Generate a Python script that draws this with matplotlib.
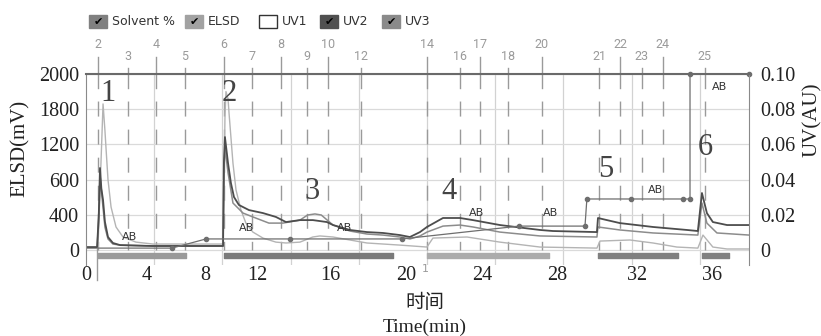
import numpy as np
import matplotlib.pyplot as plt
from matplotlib.patches import Rectangle

W, H = 821, 336

# traces: time (min) vs signal (AU); the left axis just relabels the same grid as ELSD mV
elsd_t = [0, 0.70, 0.88, 1.00, 1.11, 1.17, 1.29, 1.47, 1.76, 2.17, 2.93, 3.93, 6.7, 8.04,
          8.09, 8.15, 8.21, 8.33, 8.39, 8.62, 8.80, 9.09, 9.38, 9.79, 10.38, 11.14, 11.73,
          12.55, 13.3, 13.72, 14.49, 16.48, 18.42, 20.0, 20.35, 22.35, 24.28, 26.63, 29.97,
          30.15, 31.91, 33.26, 34.66, 35.89, 36.19, 36.77, 37.6, 38.9]
elsd_v = [0.0011, 0.0011, 0.050, 0.083, 0.068, 0.0585, 0.040, 0.0244, 0.0131, 0.0074, 0.0045,
          0.0034, 0.0034, 0.0034,
          0.030, 0.075, 0.090, 0.086, 0.0778, 0.0494, 0.0341, 0.0227, 0.0153, 0.0102, 0.0068,
          0.0045, 0.0040, 0.0045, 0.0074, 0.0080, 0.0074, 0.0040, 0.0028, 0.0017, 0.0068,
          0.0074, 0.0045, 0.0017, 0.0011, 0.0051, 0.0057, 0.0040, 0.0017, 0.0011, 0.0085,
          0.0017, 0.0006, 0.0006]

uv2_t = [0, 0.65, 0.75, 0.82, 0.90, 1.00, 1.11, 1.29, 1.58, 2.0, 3.9, 6.7, 8.04,
         8.09, 8.15, 8.33, 8.50, 8.68, 8.97, 9.56, 10.38, 11.14, 11.73, 12.55, 13.31, 14.13,
         14.49, 15.48, 16.48, 17.42, 18.42, 19.0, 19.59, 20.0, 20.94, 21.94, 22.70, 24.28,
         26.63, 27.39, 29.97, 30.03, 30.56, 31.32, 33.26, 35.25, 35.89, 36.13, 36.42, 36.77,
         37.6, 38.9]
uv2_v = [0.0017, 0.0017, 0.020, 0.0466, 0.035, 0.0284, 0.016, 0.0074, 0.0040, 0.0028, 0.0023,
         0.0023, 0.0023,
         0.050, 0.0642, 0.0494, 0.0381, 0.0301, 0.0256, 0.0227, 0.0210, 0.0188, 0.0159, 0.0170,
         0.0170, 0.0159, 0.0142, 0.0114, 0.0102, 0.0097, 0.0085, 0.0074, 0.0102, 0.0131,
         0.0182, 0.0182, 0.0170, 0.0142, 0.0114, 0.0108, 0.0102, 0.0182, 0.0170, 0.0153,
         0.0131, 0.0114, 0.0108, 0.0324, 0.0210, 0.0159, 0.0142, 0.0142]

uv3_t = [0, 0.65, 0.75, 0.84, 0.92, 1.00, 1.11, 1.29, 1.58, 2.0, 3.9, 6.7, 8.04,
         8.09, 8.15, 8.33, 8.62, 9.21, 9.79, 10.73, 11.55, 12.55, 13.0, 13.43, 13.8, 14.49,
         15.48, 16.48, 17.42, 18.42, 19.0, 19.59, 20.0, 20.94, 21.94, 22.70, 24.28, 26.63,
         29.97, 30.03, 31.32, 33.26, 35.89, 36.13, 36.42, 37.01, 38.9]
uv3_v = [0.0011, 0.0011, 0.018, 0.0409, 0.032, 0.024, 0.013, 0.0063, 0.0034, 0.0028, 0.0023,
         0.0023, 0.0023,
         0.045, 0.058, 0.044, 0.0267, 0.0210, 0.0188, 0.0153, 0.0153, 0.0170, 0.0199, 0.0205,
         0.0199, 0.0142, 0.0108, 0.0091, 0.0085, 0.0074, 0.0063, 0.0080, 0.0102, 0.0136,
         0.0142, 0.0131, 0.0102, 0.0080, 0.0074, 0.0131, 0.0114, 0.0097, 0.0085, 0.0267,
         0.0153, 0.0097, 0.0085]

solv_t = [0.70, 5.04, 7.04, 8.04, 11.96, 18.53, 25.40, 29.27, 29.38, 31.96, 35.01, 35.43, 35.43, 38.89]
solv_v = [0.0011, 0.0011, 0.0063, 0.0063, 0.0063, 0.0063, 0.0136, 0.0136, 0.0290, 0.0290,
          0.0290, 0.0290, 0.1, 0.1]
solv_dots = [1, 2, 4, 5, 6, 7, 8, 9, 10, 11, 12, 13]

# fraction collection marks
frac_num = ['2', '3', '4', '5', '6', '7', '8', '9', '10', '12', '14', '16', '17', '18',
            '20', '21', '22', '23', '24', '25']
frac_t = [0.70, 2.46, 4.11, 5.81, 8.09, 9.74, 11.44, 12.96, 14.19, 16.13, 20.0, 21.94,
          23.11, 24.75, 26.74, 30.09, 31.32, 32.61, 33.84, 36.30]
frac_row = [0, 1, 0, 1, 0, 1, 0, 1, 0, 1, 0, 1, 0, 1, 0, 1, 0, 1, 0, 1]

# fraction bars (start, length) and shade
bars = [(0.70, 5.17), (8.09, 9.92), (20.0, 7.16), (30.03, 4.69), (36.13, 1.58)]
bar_cols = ['#9a9a9a', '#7a7a7a', '#ababab', '#808080', '#808080']

peak_lab = ['1', '2', '3', '4', '5', '6']
peak_t = [1.29, 8.39, 13.26, 21.29, 30.5, 36.3]
peak_v = [0.0892, 0.0892, 0.033, 0.033, 0.0455, 0.0585]

ab_t = [2.58, 9.44, 15.19, 22.93, 27.27, 33.43, 37.18]
ab_v = [0.0074, 0.0125, 0.0125, 0.021, 0.021, 0.034, 0.0926]

x_tick_pos = [0.02, 3.58, 6.98, 10.03, 14.31, 18.77, 23.23, 27.62, 32.32, 36.72]
x_tick_lab = ['0', '4', '8', '12', '16', '20', '24', '28', '32', '36']
y_ticks = [0, 0.02, 0.04, 0.06, 0.08, 0.10]
elsd_lab = ['0', '400', '600', '1200', '1800', '2000']
uv_lab = ['0', '0.02', '0.04', '0.06', '0.08', '0.10']

serif = 'Liberation Serif'

fig = plt.figure(figsize=(W / 100, H / 100), dpi=100)
ax = fig.add_axes([86 / W, 1 - 265 / H, 663 / W, 191 / H])
ax.set_xlim(0, 38.89)
ax.set_ylim(-0.0085, 0.1)

# grid
ax.set_xticks(np.arange(4, 37, 4), minor=True)
ax.xaxis.grid(True, which='minor', color='#d2d2d2', lw=0.9)
ax.set_yticks(y_ticks, elsd_lab, fontfamily=serif, fontsize=14.5, color='#222')
ax.yaxis.grid(True, color='#dadada', lw=0.9)
ax.set_xticks(x_tick_pos, x_tick_lab, fontfamily=serif, fontsize=14.5, color='#222')
ax.tick_params(which='both', length=0)
ax.tick_params(axis='y', pad=5)
ax.tick_params(axis='x', pad=1)
ax.set_axisbelow(True)

for s in ['left', 'right']:
    ax.spines[s].set_color('#8a8a8a')
ax.spines['top'].set_color('#6a6a6a')
ax.spines['top'].set_linewidth(1.5)
ax.spines['bottom'].set_visible(False)

ax2 = ax.twinx()
ax2.set_ylim(ax.get_ylim())
ax2.set_yticks(y_ticks, uv_lab, fontfamily=serif, fontsize=14.5, color='#222')
ax2.tick_params(length=0, pad=8)
for s in ax2.spines.values():
    s.set_visible(False)

# fraction lines: solid stub above the frame, dashed inside
for t, n, r in zip(frac_t, frac_num, frac_row):
    top = 0.1097 if r == 0 else 0.1034
    ax.plot([t, t], [top, 0.092], color='#9a9a9a', lw=1, clip_on=False)
    ax.plot([t, t], [0.092, 0.0], color='#9a9a9a', lw=1, ls=(10.8, (10.8, 9.4)))
    ax.text(t, 0.1165 if r == 0 else 0.1102, n, ha='center', va='center', fontsize=9,
            fontfamily='Roboto', color='#9a9a9a', clip_on=False)

# injection mark below the frame
ax.plot([0.65, 0.65], [0.0017, -0.017], color='#9a9a9a', lw=1, clip_on=False)
ax.text(19.88, -0.0105, '1', fontsize=8, color='#9a9a9a', ha='center', va='center',
        clip_on=False)

for (s, w), c in zip(bars, bar_cols):
    ax.broken_barh([(s, w)], (-0.0048, 0.0032), color=c)

ax.plot(elsd_t, elsd_v, color='#b4b4b4', lw=1.0)
ax.plot(uv3_t, uv3_v, color='#8c8c8c', lw=1.1)
ax.plot(uv2_t, uv2_v, color='#4d4d4d', lw=1.3)
ax.plot(solv_t, solv_v, color='#6e6e6e', lw=0.9, marker='o', ms=3,
        markevery=solv_dots, clip_on=False)

for t, v, s in zip(peak_t, peak_v, peak_lab):
    ax.text(t, v, s, ha='center', va='center', fontsize=22, fontfamily=serif, color='#444')
for t, v in zip(ab_t, ab_v):
    ax.text(t, v, 'AB', ha='center', va='center', fontsize=8, color='#333')

# axis titles
fig.text(20 / W, 1 - 148 / H, 'ELSD(mV)', rotation=90, ha='center', va='center',
         fontfamily=serif, fontsize=15, color='#222')
fig.text(812 / W, 1 - 120 / H, 'UV(AU)', rotation=90, ha='center', va='center',
         fontfamily=serif, fontsize=15, color='#222')
fig.text(425 / W, 1 - 303 / H, '时间', ha='center', va='center',
         fontfamily='Noto Sans CJK SC', fontsize=14, color='#222')
fig.text(425 / W, 1 - 327 / H, 'Time(min)', ha='center', va='center',
         fontfamily=serif, fontsize=14, color='#222')

# legend row at the top
leg_lab = ['Solvent %', 'ELSD', 'UV1', 'UV2', 'UV3']
leg_box_x = [89, 185, 259, 320, 382]
leg_col = ['#808080', '#a2a2a2', 'white', '#505050', '#8a8a8a']
leg_chk = [True, True, False, True, True]
for bx, lab, c, chk in zip(leg_box_x, leg_lab, leg_col, leg_chk):
    fig.add_artist(Rectangle((bx / W, 1 - 28 / H), 18 / W, 13 / H, transform=fig.transFigure,
                             facecolor=c, edgecolor='#333' if c == 'white' else c, lw=1))
    if chk:
        fig.text((bx + 9) / W, 1 - 21.5 / H, '✔', ha='center', va='center', fontsize=8,
                 color='black')
    fig.text((bx + 23) / W, 1 - 21.5 / H, lab, ha='left', va='center', fontsize=9,
             color='#333')

fig.savefig('out.png', dpi=100)
